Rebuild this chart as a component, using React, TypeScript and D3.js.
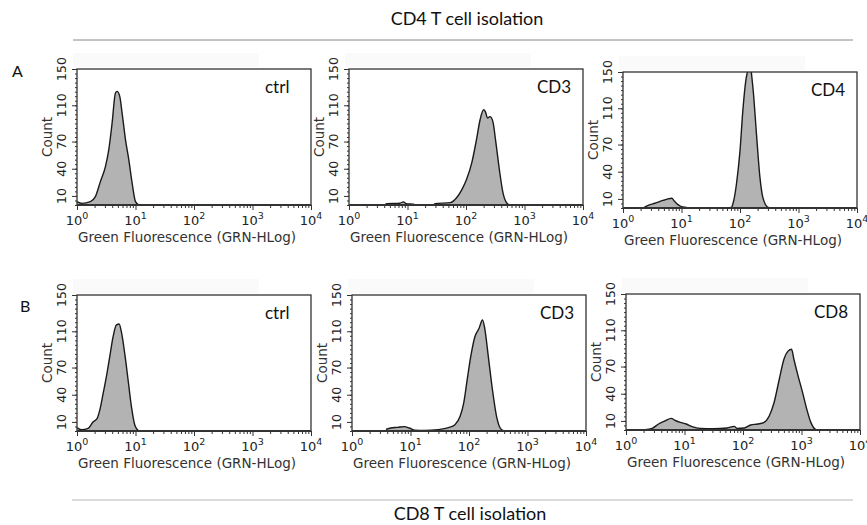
import React, {useEffect, useRef} from "react";
import * as d3 from "d3";

// y axis (Count) ticks and x axis decades
const countTicks = [10, 40, 70, 110, 150];
const decades = [1, 10, 100, 1000, 10000];

// CD4 T cell isolation (row A)
const ctrlAFluor = [1.0, 1.22, 1.69, 2.06, 2.51, 3.06, 3.49, 3.98, 4.54, 4.85, 5.38, 5.9, 6.75, 7.69, 8.77, 10.0, 11.4];
const ctrlACount = [3.7, 1.8, 3.7, 9.2, 25.8, 42.4, 60.8, 90.3, 123.5, 125.3, 119.8, 101.4, 71.9, 49.8, 23.9, 3.7, 0];

const cd3AFluor = [4.2, 4.4, 7.4, 8.5, 9.5, 12.6, 14, 28, 29.5, 53.7, 69, 85, 102, 126, 151, 174, 200, 214, 234, 257, 288, 324, 372, 427, 501, 562];
const cd3ACount = [0.5, 1.5, 2, 3.5, 1.5, 1, 0, 0, 1.5, 2.6, 8, 17, 28, 47, 72, 94, 105, 103, 96, 97.5, 92, 69, 39, 14, 2, 0];

const cd4AFluor = [2.3, 2.9, 3.5, 4.3, 5.1, 5.9, 6.8, 7.6, 8.7, 10, 12, 14, 52, 71, 78, 87, 100, 112, 126, 135, 145, 155, 170, 191, 219, 245, 302, 347];
const cd4ACount = [0.7, 3.7, 5.2, 7.4, 8.8, 10, 10.7, 7.4, 3.7, 1.5, 0.7, 0, 0, 0.7, 8, 26.5, 63, 108, 141, 152, 170, 152, 126, 82, 34, 12, 0.7, 0];

// CD8 T cell isolation (row B)
const ctrlBFluor = [1.0, 1.19, 1.55, 1.88, 2.2, 2.45, 2.79, 3.18, 3.63, 4.14, 4.72, 5.25, 5.75, 6.56, 7.48, 8.53, 9.75, 11.1];
const ctrlBCount = [3.7, 1.5, 3, 10, 13.6, 23, 41, 60, 82, 104, 117, 118, 109, 85, 56, 26.5, 6.3, 0.7];

const cd3BFluor = [3.8, 4.6, 6.0, 7.9, 9.5, 11.7, 17.4, 29.5, 44.7, 57.5, 70.8, 81.3, 93.3, 107, 126, 148, 170, 186, 214, 251, 295, 347, 398];
const cd3BCount = [1.8, 3.3, 4, 4.8, 3.3, 1, 0.7, 1.5, 3.7, 7, 16.5, 31, 57, 82, 104, 113, 122.5, 113, 82, 46, 16.5, 2.6, 0];

const cd8BFluor = [2.1, 2.8, 3.6, 4.7, 5.9, 7.1, 8.5, 10.7, 13.5, 18.6, 31.6, 53.7, 70.8, 79.4, 105, 135, 178, 229, 282, 339, 417, 501, 589, 676, 741, 871, 1047, 1230, 1445, 1778, 1995];
const cd8BCount = [0.4, 1.8, 6.6, 10.2, 12.8, 10.2, 8.4, 6.6, 3.7, 1.8, 1.5, 2.2, 4, 1.8, 2.2, 5.5, 6.6, 8.4, 15.7, 30, 56, 78, 87, 89, 78, 60, 41, 23, 8.4, 0.4, 0];

const panelLabels = ["ctrl", "CD3", "CD4", "ctrl", "CD3", "CD8"];
const panelFluor = [ctrlAFluor, cd3AFluor, cd4AFluor, ctrlBFluor, cd3BFluor, cd8BFluor];
const panelCount = [ctrlACount, cd3ACount, cd4ACount, ctrlBCount, cd3BCount, cd8BCount];

// plot box origins
const frames = [[77, 69], [349, 69], [623, 72], [77, 295], [352, 295], [626, 294]];

export default function App() {
    const svgRef = useRef(null);
    const width = 867;
    const height = 525;
    const w = 234;
    const h = 136;

    useEffect(() => {
        const svg = d3.select(svgRef.current);
        svg.selectAll("*").remove();

        const titleFont = "Lato, 'Open Sans', sans-serif";
        const axisFont = "'DejaVu Sans', Verdana, sans-serif";

        // headers
        svg.append("text").attr("x", 467).attr("y", 25).attr("text-anchor", "middle")
            .style("font-family", titleFont).style("font-size", "18px").attr("fill", "#111")
            .text("CD4 T cell isolation");
        svg.append("line").attr("x1", 73).attr("x2", 853).attr("y1", 40).attr("y2", 40)
            .attr("stroke", "#888").attr("stroke-width", 1);
        svg.append("line").attr("x1", 72).attr("x2", 853).attr("y1", 500).attr("y2", 500)
            .attr("stroke", "#b5b5b5").attr("stroke-width", 1.2);
        svg.append("text").attr("x", 470).attr("y", 520).attr("text-anchor", "middle")
            .style("font-family", titleFont).style("font-size", "18px").attr("fill", "#111")
            .text("CD8 T cell isolation");
        svg.append("text").attr("x", 12).attr("y", 77)
            .style("font-family", titleFont).style("font-size", "16px").attr("fill", "#111").text("A");
        svg.append("text").attr("x", 20).attr("y", 312)
            .style("font-family", titleFont).style("font-size", "16px").attr("fill", "#111").text("B");

        const x = d3.scaleLog().domain([1, 10000]).range([0, w]);
        const y = d3.scaleLinear().domain([0, 150]).range([h, 0]);
        const minorX = [];
        for (let p = 1; p < 10000; p *= 10) {
            for (let k = 2; k <= 9; k++) minorX.push(p * k);
        }
        const minorY = d3.range(0, 151, 5);

        const area = d3.area()
            .x(d => x(d[0]))
            .y0(h)
            .y1(d => y(d[1]))
            .curve(d3.curveMonotoneX);
        const line = d3.line()
            .x(d => x(d[0]))
            .y(d => y(d[1]))
            .curve(d3.curveMonotoneX);

        frames.forEach(([fx, fy], i) => {
            const g = svg.append("g").attr("transform", `translate(${fx},${fy})`);
            const pts = panelFluor[i].map((v, j) => [v, panelCount[i][j]]);

            // faint band above box
            g.append("rect").attr("x", -4).attr("y", -16).attr("width", 186).attr("height", 14)
                .attr("fill", "#fafafa");

            const clipId = `clip-${i}`;
            g.append("clipPath").attr("id", clipId)
                .append("rect").attr("x", 0).attr("y", 0).attr("width", w).attr("height", h);

            const plot = g.append("g").attr("clip-path", `url(#${clipId})`);
            plot.append("path").datum(pts).attr("d", area).attr("fill", "#b3b3b3");
            plot.append("path").datum(pts).attr("d", line).attr("fill", "none")
                .attr("stroke", "#1a1a1a").attr("stroke-width", 1.4);

            g.append("rect").attr("x", 0).attr("y", 0).attr("width", w).attr("height", h)
                .attr("fill", "none").attr("stroke", "#333").attr("stroke-width", 1.3);
            g.append("line").attr("x1", 0).attr("x2", w).attr("y1", h).attr("y2", h)
                .attr("stroke", "#333").attr("stroke-width", 2);

            // x axis ticks
            const xa = g.append("g").attr("transform", `translate(0,${h})`);
            xa.call(d3.axisBottom(x).tickValues(minorX).tickSize(3).tickFormat(() => ""));
            xa.call(g2 => g2.select(".domain").remove());
            const xb = g.append("g").attr("transform", `translate(0,${h})`);
            xb.call(d3.axisBottom(x).tickValues(decades).tickSize(5).tickFormat(() => ""));
            xb.call(g2 => g2.select(".domain").remove());
            g.selectAll(".tick line").attr("stroke", "#333");

            decades.forEach((v, k) => {
                const t = g.append("text").attr("x", x(v)).attr("y", h + 20).attr("text-anchor", "middle")
                    .style("font-family", axisFont).style("font-size", "13px").attr("fill", "#222");
                t.append("tspan").text("10");
                t.append("tspan").attr("dy", -6).style("font-size", "9.5px").text(String(k));
            });
            g.append("text").attr("x", 110).attr("y", h + 37).attr("text-anchor", "middle")
                .style("font-family", axisFont).style("font-size", "13.5px").attr("fill", "#333")
                .text("Green Fluorescence (GRN-HLog)");

            // y axis ticks
            const ya = g.append("g");
            ya.call(d3.axisLeft(y).tickValues(minorY).tickSize(2).tickFormat(() => ""));
            ya.call(g2 => g2.select(".domain").remove());
            const yb = g.append("g");
            yb.call(d3.axisLeft(y).tickValues(countTicks).tickSize(5).tickFormat(() => ""));
            yb.call(g2 => g2.select(".domain").remove());
            g.selectAll(".tick line").attr("stroke", "#333");

            countTicks.forEach(v => {
                g.append("text").attr("transform", `translate(-11,${y(v)}) rotate(-90)`)
                    .attr("text-anchor", "middle")
                    .style("font-family", axisFont).style("font-size", "12.5px").attr("fill", "#222")
                    .text(v);
            });
            g.append("text").attr("transform", `translate(-25,${h / 2}) rotate(-90)`)
                .attr("text-anchor", "middle")
                .style("font-family", axisFont).style("font-size", "13.5px").attr("fill", "#333")
                .text("Count");

            g.append("text").attr("x", 188).attr("y", 24)
                .style("font-family", titleFont).style("font-size", "17px").attr("fill", "#111")
                .text(panelLabels[i]);
        });
    }, []);

    return <div>
        <svg
            ref={svgRef}
            width={width}
            height={height}
            style={{position: "absolute", left: 0, top: 0, background: "#fff"}}
        />
    </div>
}
